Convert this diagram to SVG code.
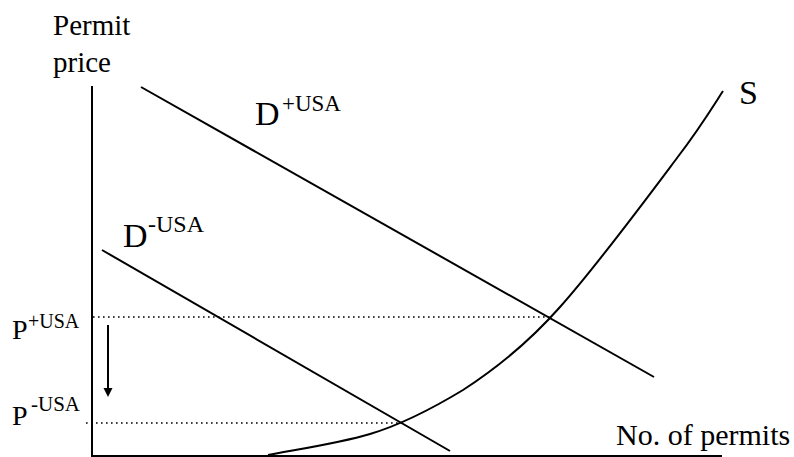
<svg xmlns="http://www.w3.org/2000/svg" width="794" height="457" viewBox="0 0 794 457">
<g id="axes" stroke="#000" stroke-width="2" fill="none">
<line x1="92" y1="86" x2="92" y2="456"/>
<line x1="91" y1="456" x2="722" y2="456"/>
</g>
<g id="axis-labels" font-family="Liberation Serif" fill="#000">
<text x="53" y="35" font-size="29">Permit</text>
<text x="53" y="72" font-size="29">price</text>
<text x="616" y="445" font-size="30">No. of permits</text>
</g>
<g id="D-plus">
<line x1="141" y1="87" x2="654" y2="377" stroke="#000" stroke-width="2"/>
<text x="255" y="125" font-family="Liberation Serif" font-size="34" fill="#000">D</text>
<text x="282" y="111" font-family="Liberation Serif" font-size="23" fill="#000">+USA</text>
</g>
<g id="D-minus">
<line x1="102" y1="250" x2="450" y2="451" stroke="#000" stroke-width="2"/>
<text x="123" y="247" font-family="Liberation Serif" font-size="34" fill="#000">D</text>
<text x="148" y="232" font-family="Liberation Serif" font-size="24" fill="#000">-USA</text>
</g>
<g id="S">
<path d="M268,455 C300,449 340,443 370,434 C400,425 430,410 463,390 C500,366 530,341 560,307 C595,268 650,194 677,158 C700,128 712,108 723,91" stroke="#000" stroke-width="2" fill="none"/>
<text x="739" y="104" font-family="Liberation Serif" font-size="34" fill="#000">S</text>
</g>
<g id="P-plus" font-family="Liberation Serif" fill="#000">
<text x="12" y="339" font-size="28">P</text>
<text x="28" y="328" font-size="20">+USA</text>
</g>
<g id="P-minus" font-family="Liberation Serif" fill="#000">
<text x="12" y="425" font-size="28">P</text>
<text x="31" y="411" font-size="21">-USA</text>
</g>
<g id="connectors" stroke="#000" fill="none">
<line x1="93" y1="317" x2="550" y2="317" stroke-width="1.6" stroke-dasharray="1.6 3.4"/>
<line x1="86" y1="423" x2="400" y2="423" stroke-width="1.6" stroke-dasharray="1.6 3.4"/>
<line x1="108" y1="325" x2="108" y2="389" stroke-width="2"/>
<path d="M103.5,388 L112.5,388 L108,397 Z" fill="#000" stroke="none"/>
</g>
</svg>
